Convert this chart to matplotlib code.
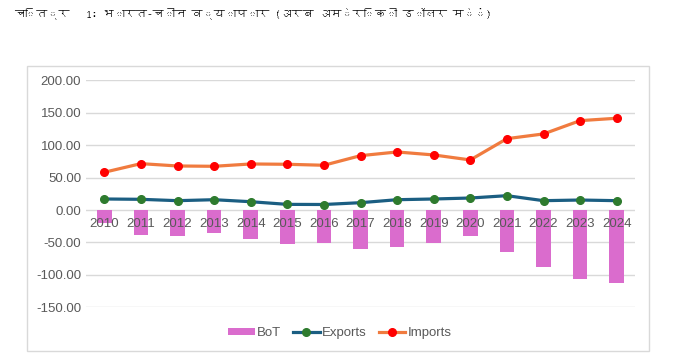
import matplotlib
matplotlib.use("Agg")
import matplotlib.pyplot as plt
from matplotlib import font_manager
from matplotlib.patches import Rectangle
from matplotlib.ft2font import FT2Font

# data (billion USD)
years = ["2010", "2011", "2012", "2013", "2014", "2015", "2016", "2017",
         "2018", "2019", "2020", "2021", "2022", "2023", "2024"]
bot = [-19.5, -39, -40, -36, -45, -53, -51.5, -59.5, -57.5, -51.5, -40,
       -65, -88, -106.5, -112]
exports = [17, 16.5, 14.4, 15.9, 12.8, 8.7, 8.5, 11.3, 15.9, 17, 18.5,
           22.1, 14.4, 15.4, 14.4]
imports = [58.2, 71.5, 67.9, 67.4, 71, 70.5, 69, 83.8, 89.5, 84.9, 77.2,
           110, 117.3, 137.8, 141.5]
yticks = [-150, -100, -50, 0, 50, 100, 150, 200]

title = "चित्र   1: भारत-चीन व्यापार (अरब अमेरिकी डॉलर में)"


# find an installed font that can draw Devanagari, if any
def devanagari_font():
    for path in font_manager.findSystemFonts():
        try:
            if 0x092D in FT2Font(path).get_charmap():
                return font_manager.FontProperties(fname=path).get_name()
        except Exception:
            pass
    return None


hindi = devanagari_font()
title_family = [hindi, "DejaVu Sans"] if hindi else ["DejaVu Sans"]

plt.rcParams["font.family"] = ["Liberation Sans", "DejaVu Sans"]

fig = plt.figure(figsize=(6.97, 3.63), dpi=100)
fig.patches.append(Rectangle((27 / 697, 1 - 351 / 363), 622 / 697, 285 / 363,
                             transform=fig.transFigure, fill=False,
                             edgecolor="#d9d9d9", linewidth=1))
ax = fig.add_axes([86 / 697, 1 - 307.3 / 363, 549 / 697, 227 / 363])

x = list(range(len(years)))
for t in yticks:
    ax.axhline(t, color="#d9d9d9", linewidth=1, zorder=0)
b = ax.bar(x, bot, width=0.4, color="#da6ccd", label="BoT", zorder=1)
l1, = ax.plot(x, exports, color="#1b5e82", linewidth=2.3, marker="o",
              markersize=5.5, markerfacecolor="#2e7b2e",
              markeredgecolor="#2e7b2e", label="Exports", zorder=3)
l2, = ax.plot(x, imports, color="#f07b3f", linewidth=2.3, marker="o",
              markersize=5.5, markerfacecolor="#ff0000",
              markeredgecolor="#ff0000", label="Imports", zorder=3)

ax.set_xlim(-0.5, len(years) - 0.5)
ax.set_ylim(-150, 200)
ax.set_yticks(yticks)
ax.set_yticklabels([f"{t:.2f}" for t in yticks])
ax.set_xticks(x)
ax.set_xticklabels(years)
ax.spines["bottom"].set_position(("data", 0))
for s in ax.spines.values():
    s.set_visible(False)
ax.tick_params(length=0, labelsize=9.5, labelcolor="#595959")
ax.tick_params(axis="x", pad=6)
ax.set_axisbelow(False)

fig.legend(handles=[b, l1, l2], loc="center",
           bbox_to_anchor=(340 / 697, 1 - 333 / 363), ncol=3,
           frameon=False, fontsize=9.5, labelcolor="#595959",
           handlelength=2.0, handleheight=0.5, handletextpad=0.2,
           columnspacing=0.9)

fig.text(253 / 697, 1 - 13 / 363, title, ha="center", va="center",
         fontsize=8, fontweight="bold", family=title_family)

fig.savefig("out.png", dpi=100)
